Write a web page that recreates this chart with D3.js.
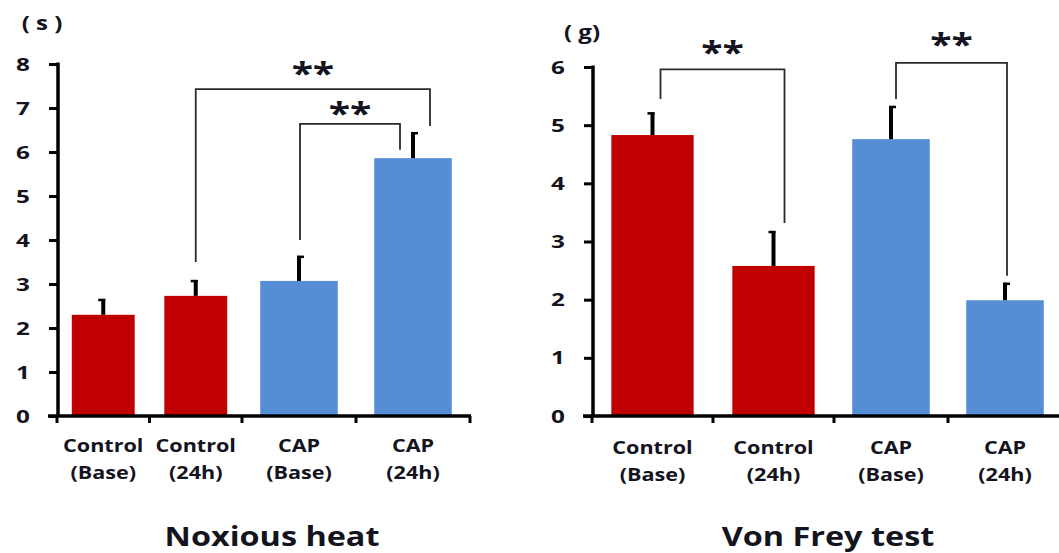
<!DOCTYPE html>
<html>
<head>
<meta charset="utf-8">
<script src="https://cdn.jsdelivr.net/npm/d3@7"></script>
<style>
  html, body { margin: 0; padding: 0; background: #fff; }
  svg { display: block; }
  text { font-family: "Open Sans", "DejaVu Sans", sans-serif; font-weight: 700; fill: #141420; }
</style>
</head>
<body>
<svg id="chart" width="1059" height="553"></svg>
<script>
// ---------- DATA ----------
const catLine1 = ["Control", "Control", "CAP", "CAP"];
const catLine2 = ["(Base)", "(24h)", "(Base)", "(24h)"];
const catGroup = ["Control", "Control", "CAP", "CAP"];
const groups = ["Control", "CAP"];

const heatMeans = [2.30, 2.73, 3.07, 5.86];
const heatErr   = [0.36, 0.36, 0.57, 0.59];
const heatTicks = [0, 1, 2, 3, 4, 5, 6, 7, 8];

const vfMeans = [4.83, 2.58, 4.76, 1.99];
const vfErr   = [0.39, 0.60, 0.57, 0.30];
const vfTicks = [0, 1, 2, 3, 4, 5, 6];

// significance brackets: from/to category index, levels in data units
const heatBrackets = [
  { from: 1, to: 3, top: 7.43, leftEnd: 3.5, rightEnd: 6.59, star: 7.86, label: "**" },
  { from: 2, to: 3, top: 6.64, leftEnd: 4.0, rightEnd: 6.05, star: 6.95, label: "**" }
];
const vfBrackets = [
  { from: 0, to: 1, top: 5.96, leftEnd: 5.45, rightEnd: 3.32, star: 6.31, label: "**" },
  { from: 2, to: 3, top: 6.07, leftEnd: 5.45, rightEnd: 2.41, star: 6.44, label: "**" }
];

const colors = { Control: "#C00000", CAP: "#558ED5" };

// ---------- LAYOUT ----------
const panels = [
  {
    title: "Noxious heat", unit: "( s )",
    means: heatMeans, errs: heatErr, ticks: heatTicks, brackets: heatBrackets,
    yDomain: [0, 8], yRange: [416, 64], axisX: 58,
    groupRanges: { Control: [57, 242], CAP: [242, 470] },
    xAxisExtent: [48, 471],
    tickLabelX: 23, unitPos: [42, 30], titlePos: [272, 546],
    catY: [452, 479],
    bracketDx: [[0, 17], [1, -13]]
  },
  {
    title: "Von Frey test", unit: "( g)",
    means: vfMeans, errs: vfErr, ticks: vfTicks, brackets: vfBrackets,
    yDomain: [0, 6], yRange: [416, 67], axisX: 593,
    groupRanges: { Control: [592, 834], CAP: [834, 1062] },
    xAxisExtent: [583, 1062],
    tickLabelX: 558, unitPos: [582, 39], titlePos: [828, 546],
    catY: [454, 481],
    bracketDx: [[8, 11], [5, 2]]
  }
];

const svg = d3.select("#chart");

function stretchedText(g, x, y, str, size, sx, anchor) {
  return g.append("text")
    .attr("transform", `translate(${x},${y}) scale(${sx},1)`)
    .attr("text-anchor", anchor || "middle")
    .style("font-size", size + "px")
    .text(str);
}

panels.forEach(p => {
  const g = svg.append("g");
  const y = d3.scaleLinear().domain(p.yDomain).range(p.yRange);

  // x scales per group (two bands each)
  const xScales = {};
  groups.forEach(gr => {
    const members = catLine2.map((c, i) => i).filter(i => catGroup[i] === gr);
    xScales[gr] = d3.scaleBand().domain(members).range(p.groupRanges[gr])
      .paddingInner(0.32).paddingOuter(0.16);
  });
  const xLeft = i => xScales[catGroup[i]](i);
  const bw = i => xScales[catGroup[i]].bandwidth();
  const xc = i => xLeft(i) + bw(i) / 2;

  // bars
  g.selectAll("rect.bar").data(p.means).join("rect")
    .attr("class", "bar")
    .attr("x", (d, i) => xLeft(i))
    .attr("width", (d, i) => bw(i))
    .attr("y", d => y(d))
    .attr("height", d => y(0) - y(d))
    .attr("fill", (d, i) => colors[catGroup[i]]);

  // error bars
  p.means.forEach((m, i) => {
    const cx = xc(i);
    g.append("line")
      .attr("x1", cx).attr("x2", cx)
      .attr("y1", y(m)).attr("y2", y(m + p.errs[i]))
      .attr("stroke", "#000").attr("stroke-width", 4);
    const capDir = catGroup[i] === "Control" ? -1 : 1;
    g.append("line")
      .attr("x1", cx - 2 * capDir).attr("x2", cx + 5 * capDir)
      .attr("y1", y(m + p.errs[i]) + 1).attr("y2", y(m + p.errs[i]) + 1)
      .attr("stroke", "#000").attr("stroke-width", 2.5);
  });

  // y axis
  const yAxis = d3.axisLeft(y).tickValues(p.ticks).tickSize(9).tickFormat("");
  const ya = g.append("g").attr("transform", `translate(${p.axisX},0)`).call(yAxis);
  ya.select(".domain").remove();
  ya.selectAll(".tick line").attr("stroke", "#000").attr("stroke-width", 3);
  g.append("line")
    .attr("x1", p.axisX).attr("x2", p.axisX)
    .attr("y1", y(p.yDomain[1]) - 1.5).attr("y2", y(0))
    .attr("stroke", "#000").attr("stroke-width", 3.5);
  p.ticks.forEach(t => {
    stretchedText(g, p.tickLabelX, y(t) + 6.5, String(t), 18, 1.35);
  });

  // x axis
  g.append("line")
    .attr("x1", p.xAxisExtent[0]).attr("x2", p.xAxisExtent[1])
    .attr("y1", y(0)).attr("y2", y(0))
    .attr("stroke", "#000").attr("stroke-width", 3.5);
  const bounds = [];
  groups.forEach(gr => {
    const r = p.groupRanges[gr];
    bounds.push(r[0], (r[0] + r[1]) / 2, r[1]);
  });
  Array.from(new Set(bounds)).forEach(b => {
    g.append("line")
      .attr("x1", b).attr("x2", b)
      .attr("y1", y(0)).attr("y2", y(0) + 7)
      .attr("stroke", "#000").attr("stroke-width", 3);
  });

  // category labels
  catLine1.forEach((c, i) => {
    stretchedText(g, xc(i), p.catY[0], c, 17, 1.27);
    stretchedText(g, xc(i), p.catY[1], catLine2[i], 17, 1.27);
  });

  // unit label
  stretchedText(g, p.unitPos[0], p.unitPos[1], p.unit, 20, 1.2);

  // title
  stretchedText(g, p.titlePos[0], p.titlePos[1], p.title, 27, 1.2);

  // brackets
  p.brackets.forEach((b, k) => {
    const x1 = xc(b.from) + p.bracketDx[k][0];
    const x2 = xc(b.to) + p.bracketDx[k][1];
    const path = d3.path();
    path.moveTo(x1, y(b.leftEnd));
    path.lineTo(x1, y(b.top));
    path.lineTo(x2, y(b.top));
    path.lineTo(x2, y(b.rightEnd));
    g.append("path").attr("d", path.toString())
      .attr("fill", "none").attr("stroke", "#2a2a2a").attr("stroke-width", 1.8);
    stretchedText(g, (x1 + x2) / 2, y(b.star) + 14, b.label, 30, 1.3);
  });
});
</script>
</body>
</html>
